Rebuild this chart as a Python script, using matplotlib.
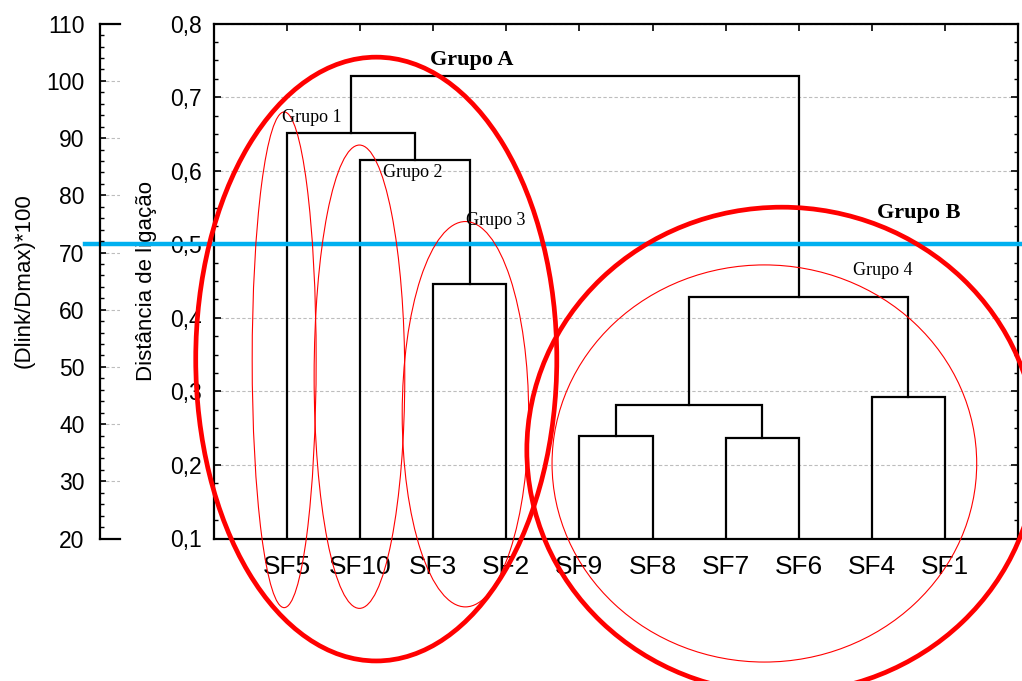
import matplotlib.pyplot as plt
import matplotlib.transforms as mtransforms
from matplotlib.patches import Ellipse
from matplotlib.ticker import FixedLocator, MultipleLocator, FuncFormatter

# leaf order along the x axis
leaves = ['SF5', 'SF10', 'SF3', 'SF2', 'SF9', 'SF8', 'SF7', 'SF6', 'SF4', 'SF1']

# joins: (left node, right node, linkage distance); nodes 0-9 are leaves, 10+ are earlier joins
joins = [
    (2, 3, 0.446),    # SF3 + SF2
    (1, 10, 0.615),   # SF10 + (SF3, SF2)
    (0, 11, 0.651),   # SF5 + ...
    (4, 5, 0.239),    # SF9 + SF8
    (6, 7, 0.236),    # SF7 + SF6
    (13, 14, 0.281),
    (8, 9, 0.293),    # SF4 + SF1
    (15, 16, 0.429),
    (12, 17, 0.729),
]
cut_height = 0.5

# cluster outlines: name, centre x, centre y, width, height, bold/thick, label x, label y
groups = [
    ('Grupo A', 2.22, 0.344, 4.94, 0.821, True, 2.95, 0.751),
    ('Grupo B', 7.77, 0.220, 6.98, 0.661, True, 9.07, 0.543),
    ('Grupo 1', 0.96, 0.343, 0.875, 0.674, False, 0.93, 0.673),
    ('Grupo 2', 1.99, 0.320, 1.24, 0.630, False, 2.31, 0.597),
    ('Grupo 3', 3.44, 0.269, 1.73, 0.524, False, 3.45, 0.532),
    ('Grupo 4', 7.53, 0.202, 5.81, 0.540, False, 8.74, 0.465),
]

y_main = [0.1, 0.2, 0.3, 0.4, 0.5, 0.6, 0.7, 0.8]
y_rel = [20, 30, 40, 50, 60, 70, 80, 90, 100, 110]

sans = 'Liberation Sans'
serif = 'Liberation Serif'
plt.rcParams['font.family'] = sans

W, H = 1022, 681
fig = plt.figure(figsize=(W / 100, H / 100), dpi=100)
ax = fig.add_axes([214 / W, 142.5 / H, 804 / W, 514.8 / H])
ax2 = fig.add_axes([100 / W, 142.5 / H, 20 / W, 514.8 / H])
label_y = (142.5 + 514.8 / 2) / H

# main axis
ax.set_xlim(0, len(leaves) + 1)
ax.set_ylim(y_main[0], y_main[-1])
ax.yaxis.set_major_locator(FixedLocator(y_main))
ax.yaxis.set_minor_locator(MultipleLocator(0.025))
ax.yaxis.set_major_formatter(FuncFormatter(lambda v, p: ('%.1f' % v).replace('.', ',')))
ax.set_xticks(range(1, len(leaves) + 1))
ax.set_xticklabels(leaves, fontsize=19)
ax.tick_params(axis='x', direction='in', top=True, length=5, width=1.2, pad=12)
ax.tick_params(axis='y', which='major', direction='in', right=True, length=5, width=1.2,
               labelsize=16.5, pad=9)
ax.tick_params(axis='y', which='minor', direction='in', right=True, length=3, width=1.0)
for s in ax.spines.values():
    s.set_linewidth(1.6)
ax.grid(axis='y', color='#bdbdbd', linestyle=(0, (3, 2)), linewidth=0.8)
ax.set_axisbelow(True)
ax.set_ylabel('Distância de ligação', fontsize=16)
ax.yaxis.set_label_coords(157 / W, label_y, transform=fig.transFigure)

# dendrogram
xpos = {i: i + 1.0 for i in range(len(leaves))}
ypos = {i: 0.0 for i in range(len(leaves))}
for k, (a, b, h) in enumerate(joins):
    node = len(leaves) + k
    ax.plot([xpos[a], xpos[a], xpos[b], xpos[b]], [ypos[a], h, h, ypos[b]],
            color='black', lw=1.6, solid_joinstyle='miter', zorder=3)
    xpos[node] = (xpos[a] + xpos[b]) / 2
    ypos[node] = h

# cut line across the whole figure
tr = mtransforms.blended_transform_factory(fig.transFigure, ax.transData)
ax.plot([85 / W, 1.0], [cut_height, cut_height], transform=tr, color='#00b0f0',
        lw=3.2, clip_on=False, zorder=4)

# cluster outlines and names
for name, cx, cy, w, h, major, lx, ly in groups:
    ax.add_patch(Ellipse((cx, cy), w, h, fill=False, edgecolor='red',
                         lw=3.4 if major else 0.8, clip_on=False, zorder=5))
    ax.text(lx, ly, name, family=serif, fontsize=16 if major else 13,
            fontweight='bold' if major else 'normal', ha='left', va='center', zorder=6)

# relative distance axis
ax2.set_ylim(y_rel[0], y_rel[-1])
ax2.set_xlim(0, 1)
ax2.yaxis.set_major_locator(FixedLocator(y_rel))
ax2.yaxis.set_minor_locator(MultipleLocator(2))
ax2.set_xticks([])
ax2.spines['right'].set_visible(False)
for s in ('left', 'top', 'bottom'):
    ax2.spines[s].set_linewidth(1.6)
ax2.tick_params(axis='y', which='major', direction='in', length=4, width=1.2,
                labelsize=16.5, pad=11)
ax2.tick_params(axis='y', which='minor', direction='in', length=3, width=1.0)
ax2.grid(axis='y', color='#bdbdbd', linestyle=(0, (3, 2)), linewidth=0.8)
ax2.set_ylabel('(Dlink/Dmax)*100', fontsize=16)
ax2.yaxis.set_label_coords(35 / W, label_y, transform=fig.transFigure)
ax2.patch.set_alpha(0)

fig.savefig('out.png', dpi=100)
